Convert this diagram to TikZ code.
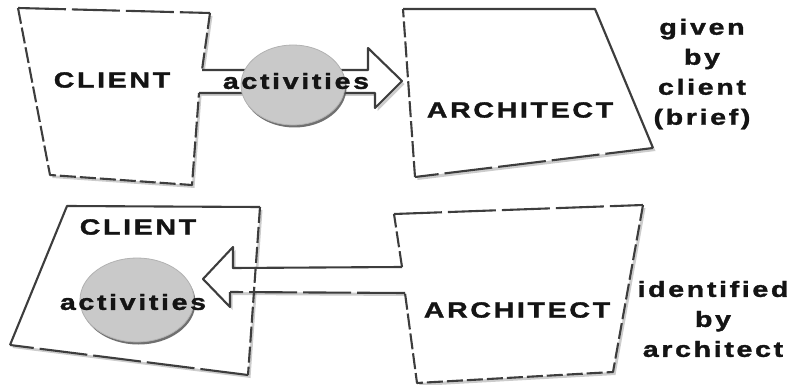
\documentclass[tikz,border=0pt]{standalone}
\usepackage{fontspec}
\usepackage{tikz}
\usetikzlibrary{shadows,shapes.geometric}
\newfontfamily\boxfont{Liberation Sans}[FakeStretch=1.3,LetterSpace=12,
                                         BoldFeatures={FakeBold=1.5}]
\tikzset{panel/.style = {fill=white,
                         drop shadow={shadow xshift=2.5pt, shadow yshift=-3pt,
                                      fill=black, opacity=.2}}}
\tikzset{rim/.style = {draw=black!76, line width=2.1pt, line join=round}}
\tikzset{dashrim/.style = {rim, dash pattern=on 16pt off 4pt}}
\tikzset{longrim/.style = {rim, dash pattern=on 48pt off 6pt}}
\tikzset{blob/.style = {ellipse, fill=gray!42, draw=gray!60, line width=.8pt,
                        drop shadow={shadow xshift=1.5pt, shadow yshift=-2.5pt,
                                     fill=black!70, opacity=.8}}}
\tikzset{lbl/.style = {font=\boxfont\bfseries\fontsize{22}{30}\selectfont,
                       text=black!92, inner sep=0pt, align=center}}

\begin{document}
\begin{tikzpicture}[x=1pt,y=-1pt]
  \useasboundingbox (0,0) rectangle (798,385);
  % client with the brief arrow, top row
  \coordinate (a1) at (18,8);    \coordinate (a2) at (210,13);
  \coordinate (a3) at (202,70);  \coordinate (a4) at (368,70);
  \coordinate (a5) at (368,48);  \coordinate (a6) at (402,81);
  \coordinate (a7) at (375,108); \coordinate (a8) at (375,93);
  \coordinate (a9) at (199,93);  \coordinate (a10) at (192,185);
  \coordinate (a11) at (50,175);
  % architect, top row
  \coordinate (b1) at (403,9);   \coordinate (b2) at (595,9);
  \coordinate (b3) at (653,148); \coordinate (b4) at (415,177);
  % client, bottom row
  \coordinate (c1) at (67,206);  \coordinate (c2) at (260,207);
  \coordinate (c3) at (248,375); \coordinate (c4) at (10,345);
  % architect with the returning arrow, bottom row
  \coordinate (d1) at (402,267); \coordinate (d2) at (394,214);
  \coordinate (d3) at (643,205); \coordinate (d4) at (613,372);
  \coordinate (d5) at (417,383); \coordinate (d6) at (405,293);
  \coordinate (d7) at (230,292); \coordinate (d8) at (230,307);
  \coordinate (d9) at (203,279); \coordinate (d10) at (233,247);
  \coordinate (d11) at (233,268);

  \fill[panel] (a1) -- (a2) -- (a3) -- (a4) -- (a5) -- (a6) -- (a7) -- (a8)
               -- (a9) -- (a10) -- (a11) -- cycle;
  \fill[panel] (b1) -- (b2) -- (b3) -- (b4) -- cycle;
  \fill[panel] (c1) -- (c2) -- (c3) -- (c4) -- cycle;
  \fill[panel] (d1) -- (d2) -- (d3) -- (d4) -- (d5) -- (d6) -- (d7) -- (d8)
               -- (d9) -- (d10) -- (d11) -- cycle;

  \draw[longrim] (a1) -- (a2);
  \draw[dashrim] (a2) -- (a3);
  \draw[dashrim] (a1) -- (a11) -- (a10) -- (a9);
  \draw[rim] (a9) -- (a8) -- (a7) -- (a6) -- (a5) -- (a4) -- (a3);
  \draw[rim] (b1) -- (b2) -- (b3);
  \draw[longrim] (b3) -- (b4);
  \draw[dashrim] (b4) -- (b1);
  \draw[rim] (c4) -- (c1) -- (c2);
  \draw[dashrim] (c2) -- (c3);
  \draw[longrim] (c3) -- (c4);
  \draw[longrim] (d2) -- (d3);
  \draw[dashrim] (d1) -- (d2) (d3) -- (d4) -- (d5) -- (d6);
  \draw[longrim] (d6) -- (d7);
  \draw[rim] (d7) -- (d8) -- (d9) -- (d10) -- (d11) -- (d1);

  \node[blob, minimum width=104pt, minimum height=80pt] (act1) at (293,85) {};
  \node[blob, minimum width=114pt, minimum height=84pt] (act2) at (137,300) {};

  \node[lbl] (client1) at (112,80) {CLIENT};
  \node[lbl] (acttext1) at (296,81) {activities};
  \node[lbl] (arch1) at (520,110) {ARCHITECT};
  \node[lbl] (brief) at (702,74) {given\\by\\client\\(brief)};
  \node[lbl] (client2) at (138,227) {CLIENT};
  \node[lbl] (acttext2) at (133,302) {activities};
  \node[lbl] (arch2) at (517,310) {ARCHITECT};
  \node[lbl] (found) at (713,319) {identified\\by\\architect};
\end{tikzpicture}
\end{document}
